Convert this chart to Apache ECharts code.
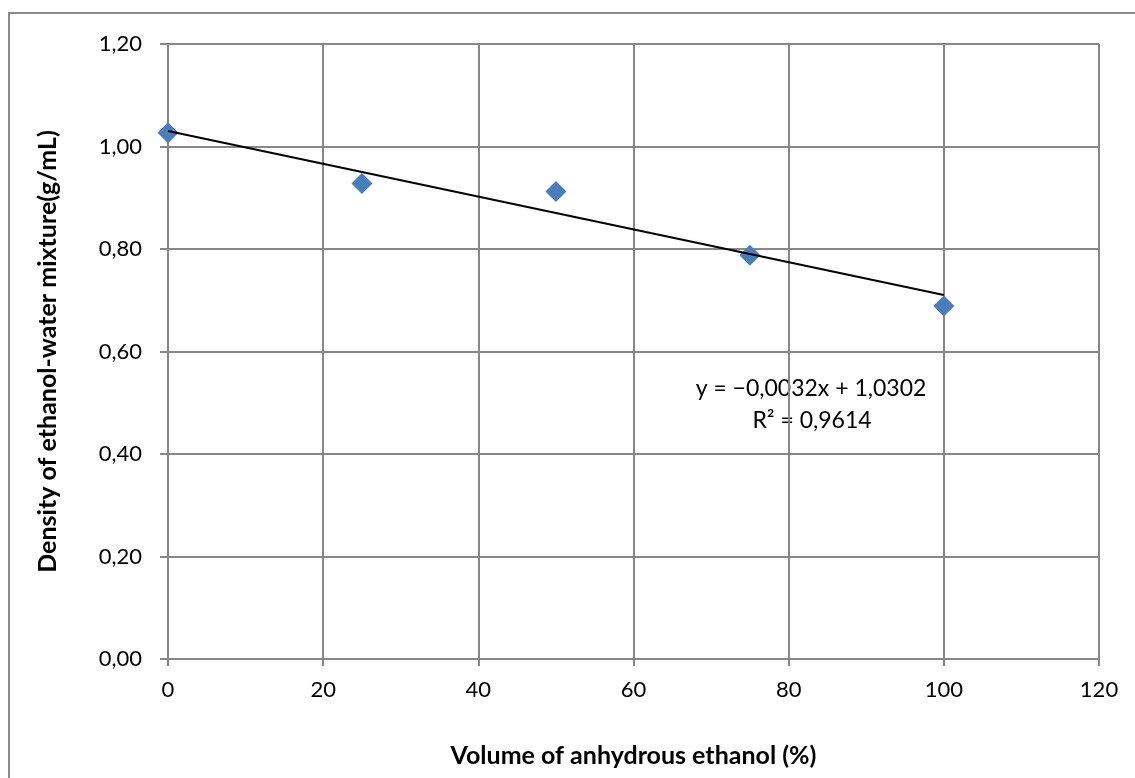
<!DOCTYPE html>
<html>
<head>
<meta charset="utf-8">
<title>Density of ethanol-water mixture</title>
<script src="https://cdn.jsdelivr.net/npm/echarts@6/dist/echarts.min.js"></script>
<style>
  html, body { margin: 0; padding: 0; background: #fff; }
  #main { width: 1135px; height: 778px; }
</style>
</head>
<body>
<div id="main"></div>
<script>
// measured points
var volume = [0, 25, 50, 75, 100];
var density = [1.027, 0.928, 0.912, 0.788, 0.689];

// trendline as printed on the chart
var trendSlope = -0.0032;
var trendIntercept = 1.0302;
var trendRange = [0, 100];

var xTicks = [0, 20, 40, 60, 80, 100, 120];
var yTicks = [0, 0.2, 0.4, 0.6, 0.8, 1.0, 1.2];

var fontName = 'Lato';
var gridColor = '#878787';

var points = volume.map(function (v, i) { return [v, density[i]]; });
var trend = trendRange.map(function (x) { return [x, trendIntercept + trendSlope * x]; });

var chart = echarts.init(document.getElementById('main'));
chart.setOption({
    animation: false,
    textStyle: { fontFamily: fontName },
    grid: { left: 168, right: 36, top: 44, bottom: 119 },
    xAxis: {
        type: 'value',
        min: xTicks[0],
        max: xTicks[xTicks.length - 1],
        interval: 20,
        name: 'Volume of anhydrous ethanol (%)',
        nameLocation: 'middle',
        nameGap: 84,
        nameTextStyle: { fontSize: 25, fontWeight: 'bold', color: '#000', fontFamily: fontName },
        axisLine: { show: true, lineStyle: { color: gridColor, width: 2 } },
        axisTick: { show: true, inside: false, length: 7, lineStyle: { color: gridColor, width: 2 } },
        axisLabel: { fontSize: 22, color: '#000', margin: 20, fontFamily: fontName },
        splitLine: { show: true, lineStyle: { color: gridColor, width: 2 } }
    },
    yAxis: {
        type: 'value',
        min: yTicks[0],
        max: yTicks[yTicks.length - 1],
        interval: 0.2,
        name: 'Density of ethanol-water mixture(g/mL)',
        nameLocation: 'middle',
        nameGap: 108,
        nameTextStyle: { fontSize: 25, fontWeight: 'bold', color: '#000', fontFamily: fontName },
        axisLine: { show: true, lineStyle: { color: gridColor, width: 2 } },
        axisTick: { show: true, inside: false, length: 8, lineStyle: { color: gridColor, width: 2 } },
        axisLabel: {
            fontSize: 22, color: '#000', margin: 26, fontFamily: fontName,
            formatter: function (v) { return v.toFixed(2).replace('.', ','); }
        },
        splitLine: { show: true, lineStyle: { color: gridColor, width: 2 } }
    },
    graphic: [
        {
            type: 'rect',
            shape: { x: 9, y: 13, width: 1200, height: 900 },
            style: { fill: 'none', stroke: '#8a8a8a', lineWidth: 2 },
            silent: true
        },
        {
            type: 'text',
            x: 811, y: 389,
            style: {
                text: 'y = \u22120,0032x + 1,0302', font: '23px Lato', fill: '#000',
                align: 'center', verticalAlign: 'middle'
            }
        },
        {
            type: 'text',
            x: 812, y: 421,
            style: {
                text: 'R\u00b2 = 0,9614', font: '23px Lato', fill: '#000',
                align: 'center', verticalAlign: 'middle'
            }
        }
    ],
    series: [
        {
            name: 'Trend',
            type: 'line',
            data: trend,
            symbol: 'none',
            lineStyle: { color: '#000', width: 2 },
            z: 3
        },
        {
            name: 'Density',
            type: 'scatter',
            data: points,
            symbol: 'diamond',
            symbolSize: [21, 21],
            itemStyle: { color: '#4a7ebb', opacity: 1 },
            z: 2
        }
    ]
});
</script>
</body>
</html>
